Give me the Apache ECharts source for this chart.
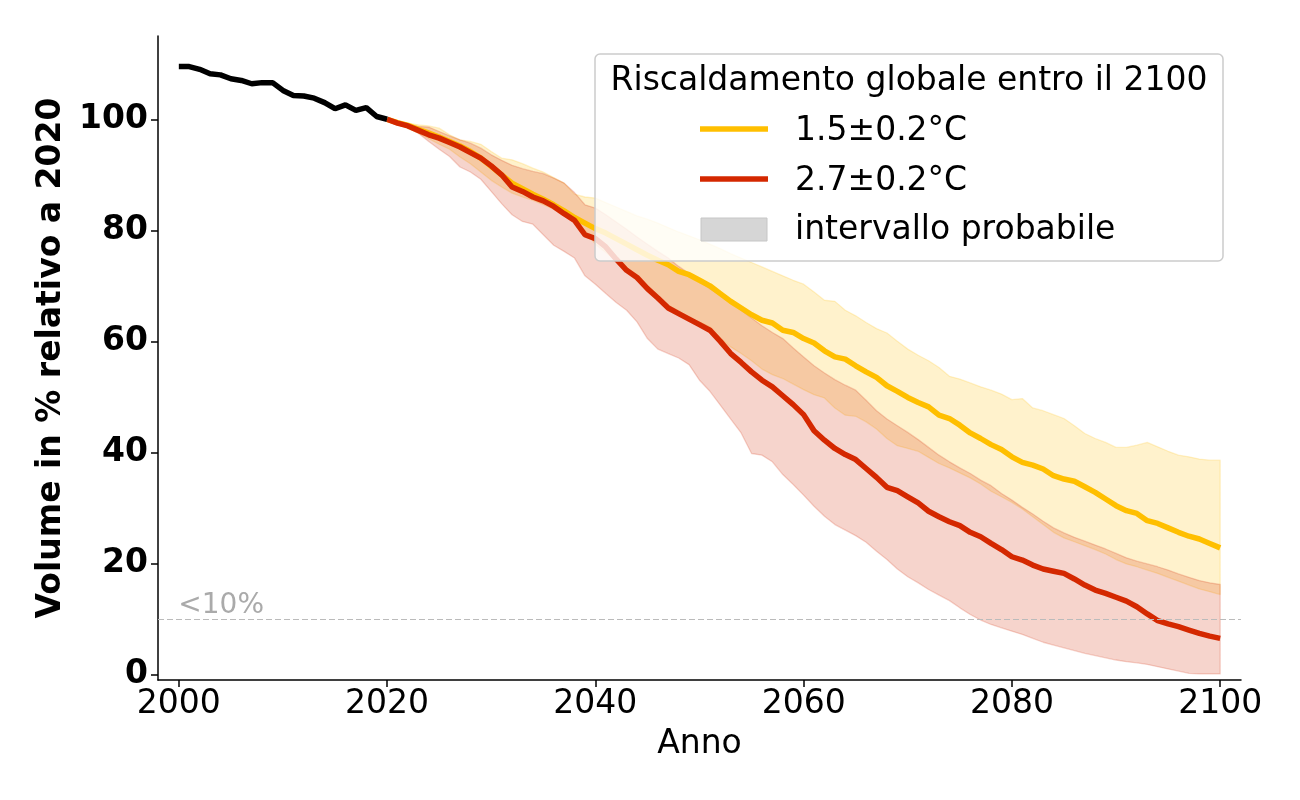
<!DOCTYPE html>
<html><head><meta charset="utf-8">
<script src="https://cdn.jsdelivr.net/npm/echarts@6/dist/echarts.min.js"></script>
<style>html,body{margin:0;padding:0;background:#fff}#c{width:1300px;height:800px}</style>
</head><body><div id="c"></div>
<script>
// ---------- DATA ----------
const histYears = [2000,2001,2002,2003,2004,2005,2006,2007,2008,2009,2010,2011,2012,2013,2014,2015,2016,2017,2018,2019,2020];
const histValues = [109.5,109.5,109.0,108.2,108.0,107.3,107.0,106.4,106.6,106.6,105.2,104.3,104.2,103.8,103.0,101.9,102.6,101.6,102.1,100.5,100.0];

const projYears = [2020,2021,2022,2023,2024,2025,2026,2027,2028,2029,2030,2031,2032,2033,2034,2035,2036,2037,2038,2039,
  2040,2041,2042,2043,2044,2045,2046,2047,2048,2049,2050,2051,2052,2053,2054,2055,2056,2057,2058,2059,
  2060,2061,2062,2063,2064,2065,2066,2067,2068,2069,2070,2071,2072,2073,2074,2075,2076,2077,2078,2079,
  2080,2081,2082,2083,2084,2085,2086,2087,2088,2089,2090,2091,2092,2093,2094,2095,2096,2097,2098,2099,2100];

// 1.5 ±0.2 °C : median, lower and upper of likely range
const mid15 = [100,99.4,98.9,98.2,97.5,96.8,96.0,95.2,94.2,93.0,91.5,90.0,88.5,87.5,86.5,85.6,84.6,83.5,82.3,81.3,
  80.3,79.5,78.5,77.5,76.5,75.5,74.6,73.8,72.6,72.0,71.0,70.0,68.6,67.2,66.0,64.8,63.8,63.3,62.0,61.6,
  60.5,59.7,58.3,57.2,56.8,55.6,54.5,53.5,52.0,51.0,49.9,49.0,48.2,46.7,46.1,44.9,43.5,42.5,41.4,40.5,
  39.2,38.2,37.7,37.0,35.8,35.2,34.8,33.8,32.8,31.6,30.4,29.5,29.0,27.7,27.2,26.4,25.6,24.9,24.4,23.6,22.8];
const lo15 = [100,99.2,98.3,97.5,96.5,95.5,94.6,93.2,92.0,90.5,89.0,87.8,86.7,86.0,85.4,84.6,83.8,82.6,81.5,80.0,
  77.5,76.0,74.5,72.5,71.0,69.0,67.5,66.5,65.5,64.2,63.5,62.6,60.5,59.0,57.8,56.5,55.0,54.0,53.3,52.3,
  51.3,50.4,49.8,48.0,46.7,46.5,45.5,44.2,42.5,41.2,40.7,40.2,39.1,38.0,37.2,36.3,35.4,34.3,33.0,32.0,
  31.0,29.8,28.4,27.0,25.6,24.6,23.9,23.2,22.5,21.7,20.7,19.9,19.4,18.8,18.2,17.5,16.8,16.1,15.4,14.9,14.4];
const hi15 = [100,99.7,99.3,99.0,98.8,98.4,97.2,96.3,96.0,95.5,94.2,93.0,92.7,92.0,91.2,90.5,89.5,88.5,86.5,86.0,
  85.8,85.0,84.2,83.4,82.6,82.0,81.3,80.5,79.7,79.0,78.3,77.5,76.7,75.8,75.0,74.2,73.4,72.6,71.8,71.0,
  70.3,68.9,67.4,67.2,65.6,64.6,63.4,62.3,61.5,60.0,58.6,57.5,56.5,55.3,53.7,53.2,52.5,51.8,51.2,50.5,
  49.5,49.7,48.0,47.5,46.8,46.1,44.8,43.4,42.5,41.8,40.9,40.9,41.3,41.8,41.0,40.2,39.5,39.2,38.8,38.6,38.6];

// 2.7 ±0.2 °C : median, lower and upper of likely range
const mid27 = [100,99.3,98.8,98.0,97.2,96.6,95.8,95.0,94.0,93.0,91.6,90.0,87.8,87.0,86.0,85.3,84.3,83.0,81.8,79.2,
  78.5,77.0,74.8,72.8,71.5,69.5,67.8,66.0,65.0,64.0,63.0,62.0,60.0,57.8,56.2,54.5,53.0,51.8,50.2,48.6,
  46.8,43.9,42.2,40.7,39.6,38.7,37.1,35.5,33.7,33.1,32.0,30.9,29.4,28.4,27.5,26.8,25.6,24.8,23.6,22.5,
  21.2,20.6,19.7,19.0,18.6,18.2,17.2,16.1,15.2,14.6,13.9,13.2,12.2,10.9,9.7,9.1,8.6,8.0,7.4,6.9,6.5];
const lo27 = [100,99.6,98.5,97.5,96.0,94.6,93.3,91.4,90.5,89.2,87.0,84.8,82.8,81.6,81.1,79.2,77.3,76.2,75.0,71.8,
  70.3,68.6,67.0,65.6,63.5,60.5,58.6,57.8,57.0,55.8,53.0,51.0,48.5,46.0,43.5,39.8,39.5,38.3,36.0,34.2,
  32.3,30.3,28.5,27.0,26.0,25.0,23.8,22.2,20.7,19.0,17.6,16.5,15.3,14.3,13.3,12.0,10.8,9.8,9.0,8.4,
  7.8,7.2,6.5,5.8,5.3,4.8,4.3,3.8,3.4,3.0,2.6,2.3,2.1,1.8,1.4,1.0,0.6,0.2,0.1,0.1,0.1];
const hi27 = [100,99.6,99.0,98.7,98.6,97.8,97.0,96.3,95.7,94.8,93.6,92.6,91.7,91.1,90.6,90.2,89.4,88.5,86.8,84.6,
  84.0,82.8,81.5,80.2,78.8,77.5,76.2,75.0,73.5,72.2,70.8,69.5,68.3,67.0,65.6,64.2,62.8,61.6,60.5,58.8,
  57.2,55.6,54.3,53.1,52.1,51.2,49.4,47.5,46.0,44.8,43.6,42.3,40.9,39.5,38.3,37.2,36.2,35.0,34.0,32.6,
  31.4,30.1,28.9,27.6,26.4,25.5,24.7,24.0,23.3,22.6,21.8,21.0,20.4,19.9,19.4,18.8,18.1,17.5,16.9,16.5,16.2];

const xTicks = [2000,2020,2040,2060,2080,2100];
const yTicks = [0,20,40,60,80,100];
const thresholdValue = 10;
const thresholdLabel = '<10%';

const legendTitle = 'Riscaldamento globale entro il 2100';
const name15 = '1.5±0.2°C';
const name27 = '2.7±0.2°C';
const nameBand = 'intervallo probabile';

// ---------- STYLE ----------
const C15 = '#FFBF00';
const C27 = '#D42800';
const BAND15 = 'rgba(255,191,0,0.2)';
const BAND27 = 'rgba(212,40,0,0.2)';
const FONT = 'DejaVu Sans';

const pairs = (xs, ys) => xs.map((x, i) => [x, ys[i]]);
const triples = (xs, lo, hi) => xs.map((x, i) => [x, lo[i], hi[i]]);

function bandSeries(lo, hi, fill) {
  return {
    type: 'custom', silent: true, z: 1, clip: true,
    data: triples(projYears, lo, hi),
    encode: { x: 0, y: [1, 2] },
    renderItem: function (params, api) {
      if (params.dataIndexInside !== 0) return null;
      const n = params.dataInsideLength;
      const upper = [], lower = [];
      for (let i = 0; i < n; i++) {
        upper.push(api.coord([api.value(0, i), api.value(2, i)]));
        lower.push(api.coord([api.value(0, i), api.value(1, i)]));
      }
      const pts = upper.concat(lower.reverse());
      return { type: 'polygon', shape: { points: pts },
        style: { fill: fill, stroke: fill, lineWidth: 1.3, lineJoin: 'round' } };
    }
  };
}

const LZ = 100;
const chart = echarts.init(document.getElementById('c'), null, { renderer: 'canvas' });
const option = {
  animation: false,
  backgroundColor: '#ffffff',
  textStyle: { fontFamily: FONT },
  grid: { left: 158, right: 59, top: 36, bottom: 120, containLabel: false, outerBoundsMode: 'none' },
  xAxis: {
    type: 'value', min: 1998, max: 2102,
    name: 'Anno', nameLocation: 'middle', nameGap: 48,
    nameTextStyle: { fontFamily: FONT, fontSize: 33, color: '#000' },
    axisLine: { onZero: false, lineStyle: { color: '#000', width: 1.5 } },
    axisTick: { show: true, length: 7, lineStyle: { color: '#000', width: 1.5 }, customValues: xTicks },
    axisLabel: { fontFamily: FONT, fontSize: 33, color: '#000', margin: 8, customValues: xTicks,
      formatter: v => String(v) },
    splitLine: { show: false }
  },
  yAxis: {
    type: 'value', min: -1, max: 115,
    name: 'Volume in % relativo a 2020', nameLocation: 'middle', nameGap: 90, nameRotate: 90,
    nameTextStyle: { fontFamily: FONT, fontSize: 33, fontWeight: 'bold', color: '#000' },
    axisLine: { show: true, onZero: false, lineStyle: { color: '#000', width: 1.5 } },
    axisTick: { show: true, length: 7, lineStyle: { color: '#000', width: 1.5 }, customValues: yTicks },
    axisLabel: { fontFamily: FONT, fontSize: 33, fontWeight: 'bold', color: '#000', margin: 10, customValues: yTicks,
      formatter: v => String(v) },
    splitLine: { show: false }
  },
  series: [
    bandSeries(lo15, hi15, BAND15),
    bandSeries(lo27, hi27, BAND27),
    { type: 'line', name: name15, data: pairs(projYears, mid15), showSymbol: false, symbol: 'none',
      lineStyle: { color: C15, width: 5.5 }, z: 3 },
    { type: 'line', name: name27, data: pairs(projYears, mid27), showSymbol: false, symbol: 'none',
      lineStyle: { color: C27, width: 5.5 }, z: 3 },
    { type: 'line', name: 'storico', data: pairs(histYears, histValues), showSymbol: false, symbol: 'none',
      lineStyle: { color: '#000', width: 5.5 }, z: 4,
      markLine: {
        silent: true, symbol: 'none', animation: false,
        label: { show: false },
        lineStyle: { color: '#bbbbbb', type: [6, 3], width: 1.2 },
        data: [{ yAxis: thresholdValue }]
      },
      markPoint: {
        silent: true, symbol: 'circle', symbolSize: 1,
        itemStyle: { color: 'rgba(0,0,0,0)' },
        label: { show: true, position: 'right', distance: 0, offset: [-1, -13],
          formatter: thresholdLabel, fontFamily: FONT, fontSize: 28, color: '#aaaaaa' },
        data: [{ coord: [histYears[0], thresholdValue] }]
      }
    }
  ],
  graphic: [
    { type: 'rect', z: LZ, silent: true, shape: { x: 595, y: 54, width: 628, height: 207, r: 5 },
      style: { fill: 'rgba(255,255,255,0.8)', stroke: '#cccccc', lineWidth: 1.5 } },
    { type: 'text', z: LZ + 1, silent: true, style: { x: 909, y: 81, text: legendTitle, align: 'center', verticalAlign: 'middle',
      font: '33px "DejaVu Sans"', fill: '#000' } },
    { type: 'line', z: LZ + 1, silent: true, shape: { x1: 700, y1: 129, x2: 768, y2: 129 }, style: { stroke: C15, lineWidth: 5.5 } },
    { type: 'text', z: LZ + 1, silent: true, style: { x: 795, y: 131, text: name15, align: 'left', verticalAlign: 'middle',
      font: '33px "DejaVu Sans"', fill: '#000' } },
    { type: 'line', z: LZ + 1, silent: true, shape: { x1: 700, y1: 179, x2: 768, y2: 179 }, style: { stroke: C27, lineWidth: 5.5 } },
    { type: 'text', z: LZ + 1, silent: true, style: { x: 795, y: 181, text: name27, align: 'left', verticalAlign: 'middle',
      font: '33px "DejaVu Sans"', fill: '#000' } },
    { type: 'rect', z: LZ + 1, silent: true, shape: { x: 701, y: 218, width: 66, height: 23 },
      style: { fill: '#d6d6d6', stroke: '#c6c6c6', lineWidth: 1 } },
    { type: 'text', z: LZ + 1, silent: true, style: { x: 795, y: 230, text: nameBand, align: 'left', verticalAlign: 'middle',
      font: '33px "DejaVu Sans"', fill: '#000' } }
  ]
};
chart.setOption(option);
</script>
</body></html>
